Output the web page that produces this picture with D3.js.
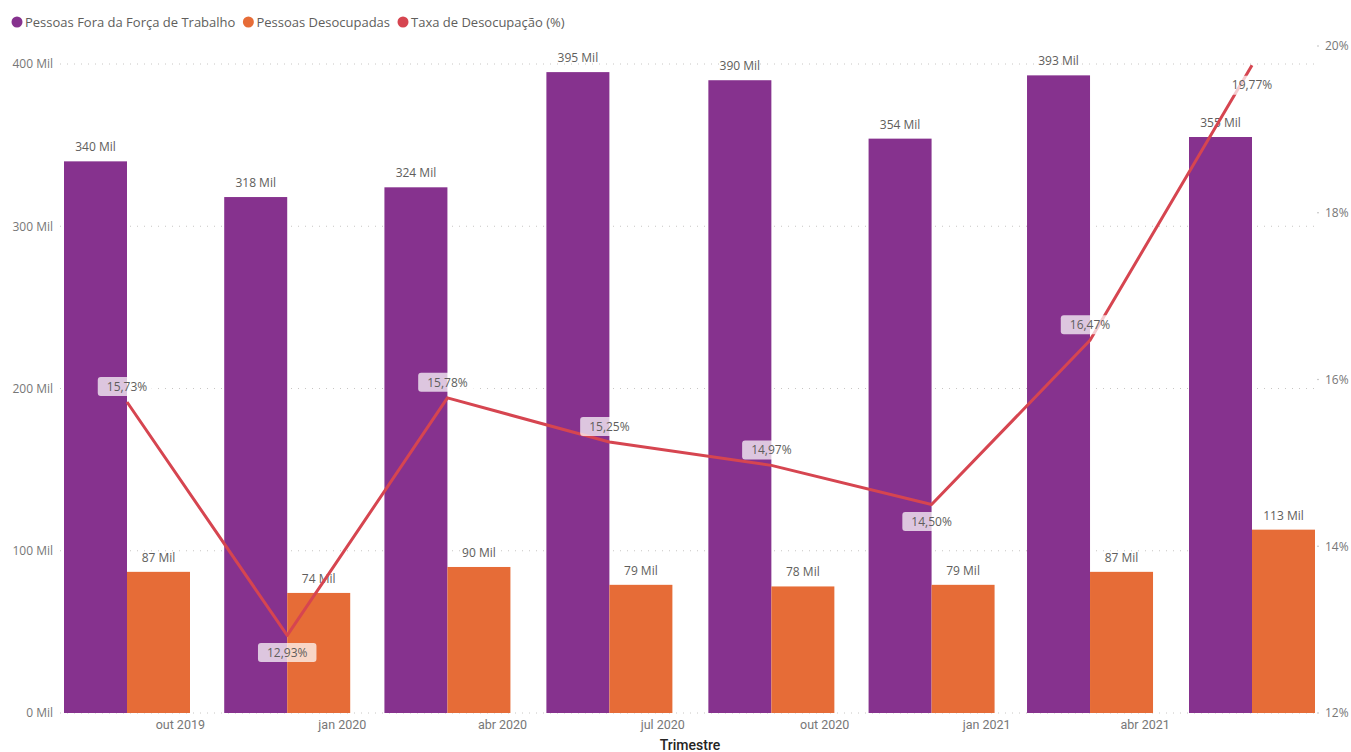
<!DOCTYPE html>
<html lang="pt-BR">
<head>
<meta charset="utf-8">
<title>Pessoas Fora da Força de Trabalho, Pessoas Desocupadas e Taxa de Desocupação</title>
<script src="https://cdn.jsdelivr.net/npm/d3@7"></script>
<style>
  html, body { margin: 0; padding: 0; background: #ffffff; }
  svg { display: block; }
  text { font-family: "Open Sans", "Noto Sans", sans-serif; }
</style>
</head>
<body>
<svg id="chart" width="1351" height="752"></svg>
<script>
// Trimestres (data de referência de cada trimestre móvel)
const quarters = ["2019-09-01", "2019-12-01", "2020-03-01", "2020-06-01",
                  "2020-09-01", "2020-12-01", "2021-03-01", "2021-06-01"];
// Pessoas Fora da Força de Trabalho (mil)
const foraForca = [340, 318, 324, 395, 390, 354, 393, 355];
// Pessoas Desocupadas (mil)
const desocupadas = [87, 74, 90, 79, 78, 79, 87, 113];
// Taxa de Desocupação (%)
const taxa = [15.73, 12.93, 15.78, 15.25, 14.97, 14.50, 16.47, 19.77];
// Rótulos do eixo X
const tickDates = ["2019-10-01", "2020-01-01", "2020-04-01", "2020-07-01",
                   "2020-10-01", "2021-01-01", "2021-04-01"];
const tickLabels = ["out 2019", "jan 2020", "abr 2020", "jul 2020",
                    "out 2020", "jan 2021", "abr 2021"];
const leftTicks = [0, 100, 200, 300, 400];
const rightTicks = [12, 14, 16, 18, 20];
const seriesNames = ["Pessoas Fora da Força de Trabalho", "Pessoas Desocupadas", "Taxa de Desocupação (%)"];

const colors = { fora: "#86328E", deso: "#E66C37", taxa: "#D64550" };
const labelColor = "#605E5C";

const svg = d3.select("#chart");
const parse = d3.utcParse("%Y-%m-%d");
const dates = quarters.map(parse);

const plot = { top: 46, bottom: 713, left: 60, right: 1316 };
const barW = 63;

const x = d3.scaleUtc()
  .domain([dates[0], dates[dates.length - 1]])
  .range([127, 1252]);
const yL = d3.scaleLinear().domain([0, 400]).range([plot.bottom, 64]);
const yR = d3.scaleLinear().domain([12, 20]).range([plot.bottom, plot.top]);

// Linhas de grade pontilhadas
svg.append("g")
  .selectAll("line")
  .data(leftTicks)
  .join("line")
  .attr("x1", plot.left).attr("x2", plot.right)
  .attr("y1", d => yL(d)).attr("y2", d => yL(d))
  .attr("stroke", "#c8c6c4")
  .attr("stroke-width", 1)
  .attr("stroke-dasharray", "1,6");

// Eixo esquerdo
const axisL = d3.axisLeft(yL).tickValues(leftTicks).tickSize(0).tickPadding(0)
  .tickFormat(d => d + " Mil");
svg.append("g")
  .attr("transform", "translate(53,0)")
  .call(axisL)
  .call(g => g.select(".domain").remove())
  .call(g => g.selectAll("text")
    .attr("fill", "#777")
    .style("font-size", "12px")
    .style("font-family", "'Open Sans', sans-serif"));

// Eixo direito
const axisR = d3.axisRight(yR).tickValues(rightTicks).tickSize(0).tickPadding(0)
  .tickFormat(d => d + "%");
svg.append("g")
  .attr("transform", "translate(1325,0)")
  .call(axisR)
  .call(g => g.select(".domain").remove())
  .call(g => g.selectAll("text")
    .attr("fill", "#777")
    .style("font-size", "12px")
    .style("font-family", "'Open Sans', sans-serif"));
svg.append("g")
  .selectAll("circle")
  .data(rightTicks)
  .join("circle")
  .attr("cx", 1318).attr("cy", d => yR(d)).attr("r", 0.7)
  .attr("fill", "#aaa");

// Barras
const groups = svg.append("g").selectAll("g")
  .data(dates)
  .join("g");

groups.append("rect")
  .attr("x", (d) => x(d) - barW)
  .attr("width", barW)
  .attr("y", (d, i) => yL(foraForca[i]))
  .attr("height", (d, i) => yL(0) - yL(foraForca[i]))
  .attr("fill", colors.fora);

groups.append("rect")
  .attr("x", (d) => x(d))
  .attr("width", barW)
  .attr("y", (d, i) => yL(desocupadas[i]))
  .attr("height", (d, i) => yL(0) - yL(desocupadas[i]))
  .attr("fill", colors.deso);

// Rótulos das barras
groups.append("text")
  .attr("x", d => x(d) - barW / 2)
  .attr("y", (d, i) => yL(foraForca[i]) - 10)
  .attr("text-anchor", "middle")
  .attr("fill", labelColor)
  .style("font-size", "12px")
  .text((d, i) => foraForca[i] + " Mil");

groups.append("text")
  .attr("x", d => x(d) + barW / 2)
  .attr("y", (d, i) => yL(desocupadas[i]) - 10)
  .attr("text-anchor", "middle")
  .attr("fill", labelColor)
  .style("font-size", "12px")
  .text((d, i) => desocupadas[i] + " Mil");

// Linha da taxa
const line = d3.line()
  .x((d, i) => x(dates[i]))
  .y(d => yR(d));
svg.append("path")
  .datum(taxa)
  .attr("d", line)
  .attr("fill", "none")
  .attr("stroke", colors.taxa)
  .attr("stroke-width", 3)
  .attr("stroke-linejoin", "round");

// Rótulos da taxa (abaixo do ponto em mínimos locais ou junto ao topo)
const fmtPct = v => v.toFixed(2).replace(".", ",") + "%";
const pctLabels = svg.append("g").selectAll("g")
  .data(taxa)
  .join("g")
  .attr("transform", (v, i) => {
    const prev = i > 0 ? taxa[i - 1] : Infinity;
    const next = i < taxa.length - 1 ? taxa[i + 1] : Infinity;
    const nearTop = yR(v) - 30 < plot.top;
    const below = (v < prev && v < next) || nearTop;
    return `translate(${x(dates[i])},${yR(v) + (nearTop ? 20 : below ? 17 : -15.5)})`;
  });

pctLabels.append("text")
  .attr("text-anchor", "middle")
  .attr("dy", "0.35em")
  .attr("fill", labelColor)
  .style("font-size", "12px")
  .text(fmtPct);

pctLabels.each(function () {
  const g = d3.select(this);
  const w = g.select("text").node().getComputedTextLength();
  g.insert("rect", "text")
    .attr("x", -w / 2 - 9)
    .attr("y", -9.5)
    .attr("width", w + 18)
    .attr("height", 19)
    .attr("rx", 3)
    .attr("fill", "#ffffff")
    .attr("fill-opacity", 0.72);
});

// Eixo X
const axisX = d3.axisBottom(x)
  .tickValues(tickDates.map(parse))
  .tickSize(0).tickPadding(0)
  .tickFormat((d, i) => tickLabels[i]);
svg.append("g")
  .attr("transform", `translate(0,${plot.bottom + 7})`)
  .call(axisX)
  .call(g => g.select(".domain").remove())
  .call(g => g.selectAll("text")
    .attr("fill", "#777")
    .style("font-size", "12.5px")
    .style("font-family", "Roboto, sans-serif"));

svg.append("text")
  .attr("x", 690).attr("y", 750)
  .attr("text-anchor", "middle")
  .attr("fill", "#252423")
  .style("font-family", "Roboto, sans-serif")
  .style("font-size", "14px")
  .style("font-weight", "500")
  .text("Trimestre");

// Legenda
const legend = svg.append("g").attr("transform", "translate(17,22)");
let lx = 0;
[colors.fora, colors.deso, colors.taxa].forEach((c, i) => {
  legend.append("circle").attr("cx", lx).attr("cy", 0).attr("r", 5.5).attr("fill", c);
  const t = legend.append("text")
    .attr("x", lx + 8).attr("dy", "0.35em")
    .attr("fill", labelColor)
    .style("font-size", "13px")
    .text(seriesNames[i]);
  lx += 8 + t.node().getComputedTextLength() + 13;
});
</script>
</body>
</html>
